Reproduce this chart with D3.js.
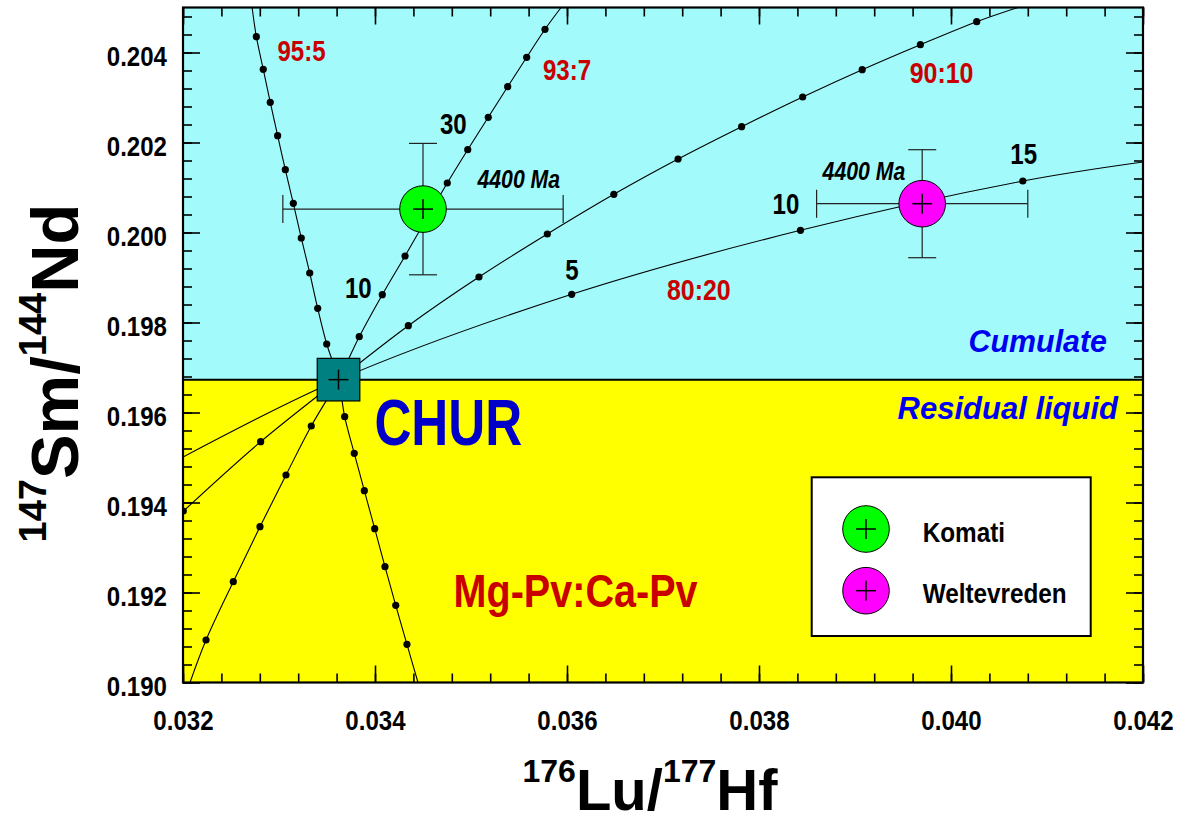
<!DOCTYPE html>
<html>
<head>
<meta charset="utf-8">
<script src="https://cdn.jsdelivr.net/npm/d3@7"></script>
<style>
  html, body { margin: 0; padding: 0; background: #ffffff; }
  svg { display: block; }
  text { font-family: "Liberation Sans", Arial, Helvetica, sans-serif; font-weight: bold; }
</style>
</head>
<body>
<svg id="chart" width="1189" height="823"></svg>
<script>
// ---------------- DATA ----------------
const xTicks = [0.032, 0.034, 0.036, 0.038, 0.040, 0.042];
const yTicks = [0.190, 0.192, 0.194, 0.196, 0.198, 0.200, 0.202, 0.204];
const xDomain = [0.032, 0.042];
const yDomain = [0.190, 0.205];

// CHUR reference composition
const chur = [0.03362, 0.19673];

// mixing / evolution trajectories through CHUR (path vertices)
const path95_5 = [[0.03272, 0.2050], [0.032764, 0.204351], [0.032836, 0.203627], [0.032909, 0.202893],
  [0.032986, 0.202151], [0.033066, 0.201396], [0.033149, 0.200649], [0.033232, 0.199878],
  [0.033320, 0.199100], [0.033403, 0.198316], [0.033497, 0.197522], [0.03362, 0.19673],
  [0.033684, 0.195907], [0.033784, 0.195093], [0.033889, 0.194262], [0.033997, 0.193418],
  [0.034104, 0.192573], [0.034216, 0.191716], [0.034333, 0.190849], [0.034448, 0.1900]];
const dots95_5 = [[0.032764, 0.204351], [0.032836, 0.203627], [0.032909, 0.202893], [0.032986, 0.202151],
  [0.033066, 0.201396], [0.033149, 0.200649], [0.033232, 0.199878], [0.033320, 0.199100],
  [0.033403, 0.198316], [0.033497, 0.197522], [0.033684, 0.195907], [0.033784, 0.195093],
  [0.033889, 0.194262], [0.033997, 0.193418], [0.034104, 0.192573], [0.034216, 0.191716],
  [0.034333, 0.190849]];

const path93_7 = [[0.035938, 0.2050], [0.035771, 0.204516], [0.035580, 0.203893], [0.035382, 0.203240],
  [0.035180, 0.202560], [0.034966, 0.201840], [0.034753, 0.201100], [0.034313, 0.199478],
  [0.034076, 0.198618], [0.033836, 0.197684], [0.03362, 0.19673], [0.033336, 0.195700],
  [0.033073, 0.194611], [0.032802, 0.193462], [0.032524, 0.192240], [0.032240, 0.190944],
  [0.032073, 0.1900]];
const dots93_7 = [[0.035771, 0.204516], [0.035580, 0.203893], [0.035382, 0.203240], [0.035180, 0.202560],
  [0.034966, 0.201840], [0.034753, 0.201100], [0.034313, 0.199478], [0.034076, 0.198618],
  [0.033836, 0.197684], [0.033336, 0.195700], [0.033073, 0.194611], [0.032802, 0.193462],
  [0.032524, 0.192240], [0.032240, 0.190944]];

const path90_10 = [[0.040698, 0.2050], [0.040268, 0.204684], [0.039681, 0.204173], [0.039075, 0.203618],
  [0.038455, 0.203011], [0.037819, 0.202351], [0.037157, 0.201633], [0.036488, 0.200849],
  [0.035795, 0.199967], [0.035083, 0.199011], [0.034347, 0.197929], [0.03362, 0.19673],
  [0.032809, 0.195351], [0.032000, 0.193800]];
const dots90_10 = [[0.040268, 0.204684], [0.039681, 0.204173], [0.039075, 0.203618], [0.038455, 0.203011],
  [0.037819, 0.202351], [0.037157, 0.201633], [0.036488, 0.200849], [0.035795, 0.199967],
  [0.035083, 0.199011], [0.034347, 0.197929], [0.032809, 0.195351], [0.032003, 0.193811]];

const path80_20 = [[0.0420, 0.201567], [0.040748, 0.201144], [0.038432, 0.200049], [0.036049, 0.198627],
  [0.03362, 0.19673], [0.0320, 0.195011]];
const dots80_20 = [[0.040748, 0.201144], [0.038432, 0.200049], [0.036049, 0.198627]];

// samples (4400 Ma) with 2-sigma error bars
const sampleNames = ["Komati", "Weltevreden"];
const sampleX = [0.03450, 0.03970];
const sampleY = [0.20052, 0.20064];
const sampleXErr = [0.00146, 0.00110];
const sampleYErr = [0.00146, 0.00120];
const sampleColors = ["#00ff00", "#ff00ff"];

// ---------------- LAYOUT ----------------
const svg = d3.select("#chart");
const L = 183, R = 1143, T = 7.5, B = 682.5;
const x = d3.scaleLinear().domain(xDomain).range([L, R]);
const y = d3.scaleLinear().domain(yDomain).range([B, T]);

const cyan = "#a3fafa", yellow = "#ffff00", red = "#c80000", blue = "#0000c8", brightBlue = "#0000f0";

svg.append("defs").append("clipPath").attr("id", "clip")
  .append("rect").attr("x", L).attr("y", T).attr("width", R - L).attr("height", B - T);

// backgrounds
svg.append("rect").attr("x", L).attr("y", T).attr("width", R - L).attr("height", y(chur[1]) - T).attr("fill", cyan);
svg.append("rect").attr("x", L).attr("y", y(chur[1])).attr("width", R - L).attr("height", B - y(chur[1])).attr("fill", yellow);
svg.append("line").attr("x1", L).attr("x2", R).attr("y1", y(chur[1])).attr("y2", y(chur[1]))
  .attr("stroke", "#000").attr("stroke-width", 2);

const plot = svg.append("g").attr("clip-path", "url(#clip)");
const line = d3.line().x(d => x(d[0])).y(d => y(d[1])).curve(d3.curveCatmullRom.alpha(0.5));

[path95_5, path93_7, path90_10, path80_20].forEach(p => {
  plot.append("path").attr("d", line(p)).attr("fill", "none").attr("stroke", "#000").attr("stroke-width", 1.1);
});
[dots95_5, dots93_7, dots90_10, dots80_20].forEach(ds => {
  plot.selectAll(null).data(ds).enter().append("circle")
    .attr("cx", d => x(d[0])).attr("cy", d => y(d[1])).attr("r", 3.6).attr("fill", "#000");
});

// helper for (condensed) text
function label(g, txt, px, py, opt) {
  const o = Object.assign({ size: 28, sx: 0.85, anchor: "middle", fill: "#000", italic: false }, opt || {});
  return g.append("text")
    .attr("transform", `translate(${px},${py}) scale(${o.sx},1)`)
    .attr("text-anchor", o.anchor)
    .attr("font-size", o.size)
    .attr("font-style", o.italic ? "italic" : "normal")
    .attr("fill", o.fill)
    .text(txt);
}

// error bars + sample circles
const cap = 14;
sampleNames.forEach((n, i) => {
  const cx = x(sampleX[i]), cy = y(sampleY[i]);
  const g = svg.append("g").attr("stroke", "#222").attr("stroke-width", 1.2);
  g.append("line").attr("x1", x(sampleX[i] - sampleXErr[i])).attr("x2", x(sampleX[i] + sampleXErr[i])).attr("y1", cy).attr("y2", cy);
  g.append("line").attr("x1", cx).attr("x2", cx).attr("y1", y(sampleY[i] - sampleYErr[i])).attr("y2", y(sampleY[i] + sampleYErr[i]));
  [sampleX[i] - sampleXErr[i], sampleX[i] + sampleXErr[i]].forEach(v =>
    g.append("line").attr("x1", x(v)).attr("x2", x(v)).attr("y1", cy - cap).attr("y2", cy + cap));
  [sampleY[i] - sampleYErr[i], sampleY[i] + sampleYErr[i]].forEach(v =>
    g.append("line").attr("x1", cx - cap).attr("x2", cx + cap).attr("y1", y(v)).attr("y2", y(v)));
  svg.append("circle").attr("cx", cx).attr("cy", cy).attr("r", 23.3)
    .attr("fill", sampleColors[i]).attr("stroke", "#000").attr("stroke-width", 1);
  const pg = svg.append("g").attr("stroke", "#000").attr("stroke-width", 1.5);
  pg.append("line").attr("x1", cx - 10).attr("x2", cx + 10).attr("y1", cy).attr("y2", cy);
  pg.append("line").attr("x1", cx).attr("x2", cx).attr("y1", cy - 10).attr("y2", cy + 10);
});

// CHUR square
{
  const cx = x(chur[0]), cy = y(chur[1]), h = 21.3;
  svg.append("rect").attr("x", cx - h).attr("y", cy - h).attr("width", 2 * h).attr("height", 2 * h)
    .attr("fill", "#008080").attr("stroke", "#000").attr("stroke-width", 1.2);
  const pg = svg.append("g").attr("stroke", "#000").attr("stroke-width", 1.5);
  pg.append("line").attr("x1", cx - 10).attr("x2", cx + 10).attr("y1", cy).attr("y2", cy);
  pg.append("line").attr("x1", cx).attr("x2", cx).attr("y1", cy - 10).attr("y2", cy + 10);
}

// annotations
const ann = svg.append("g");
label(ann, "95:5", x(0.033234), y(0.203811), { size: 29, sx: 0.83, fill: red });
label(ann, "93:7", x(0.036000), y(0.203389), { size: 29, sx: 0.83, fill: red });
label(ann, "90:10", x(0.039902), y(0.203322), { size: 29, sx: 0.86, fill: red });
label(ann, "80:20", x(0.037373), y(0.198500), { size: 29, sx: 0.86, fill: red });
label(ann, "10", x(0.033826), y(0.198544), { size: 29, sx: 0.83 });
label(ann, "30", x(0.034816), y(0.202189), { size: 29, sx: 0.83 });
label(ann, "5", x(0.036052), y(0.198944), { size: 29, sx: 0.83 });
label(ann, "10", x(0.038281), y(0.200411), { size: 29, sx: 0.83 });
label(ann, "15", x(0.040757), y(0.201522), { size: 29, sx: 0.83 });
label(ann, "4400 Ma", x(0.035498), y(0.200989), { size: 25, sx: 0.85, italic: true });
label(ann, "4400 Ma", x(0.039093), y(0.201167), { size: 25, sx: 0.85, italic: true });
label(ann, "CHUR", x(0.034764), y(0.195278), { size: 64, sx: 0.8, fill: blue });
label(ann, "Cumulate", x(0.041625), y(0.197351), { size: 31, sx: 0.98, anchor: "end", italic: true, fill: brightBlue });
label(ann, "Residual liquid", x(0.041740), y(0.195856), { size: 31, sx: 1.0, anchor: "end", italic: true, fill: brightBlue });
label(ann, "Mg-Pv:Ca-Pv", x(0.036089), y(0.191684), { size: 46, sx: 0.86, fill: red });

// legend
{
  const lx = 811.7, ly = 477.3, lw = 279, lh = 158.7;
  const lg = svg.append("g");
  lg.append("rect").attr("x", lx).attr("y", ly).attr("width", lw).attr("height", lh)
    .attr("fill", "#fff").attr("stroke", "#000").attr("stroke-width", 2);
  sampleNames.forEach((n, i) => {
    const cx = lx + 54.3, cy = ly + 51.7 + i * 61.7;
    lg.append("circle").attr("cx", cx).attr("cy", cy).attr("r", 23.3)
      .attr("fill", sampleColors[i]).attr("stroke", "#000").attr("stroke-width", 1);
    const pg = lg.append("g").attr("stroke", "#000").attr("stroke-width", 1.5);
    pg.append("line").attr("x1", cx - 10).attr("x2", cx + 10).attr("y1", cy).attr("y2", cy);
    pg.append("line").attr("x1", cx).attr("x2", cx).attr("y1", cy - 10).attr("y2", cy + 10);
    label(lg, n, lx + 111, cy + 12.5, { size: 27, sx: 0.9, anchor: "start" });
  });
}

// axes (ticks inward on all four sides)
const minor = d3.range(0.032, 0.04201, 0.0004);
const minorY = d3.range(0.190, 0.20501, 0.0004);
const MAJ = 17, MIN = 9;
function styleAxis(g) { g.select(".domain").remove(); g.selectAll("line").attr("stroke", "#000").attr("stroke-width", 1.6); }

svg.append("g").attr("transform", `translate(0,${B})`)
  .call(d3.axisBottom(x).tickValues(minor).tickSize(-MIN).tickFormat("")).call(styleAxis);
svg.append("g").attr("transform", `translate(0,${T})`)
  .call(d3.axisTop(x).tickValues(minor).tickSize(-MIN).tickFormat("")).call(styleAxis);
svg.append("g").attr("transform", `translate(${L},0)`)
  .call(d3.axisLeft(y).tickValues(minorY).tickSize(-MIN).tickFormat("")).call(styleAxis);
svg.append("g").attr("transform", `translate(${R},0)`)
  .call(d3.axisRight(y).tickValues(minorY).tickSize(-MIN).tickFormat("")).call(styleAxis);

svg.append("g").attr("transform", `translate(0,${T})`)
  .call(d3.axisTop(x).tickValues(xTicks).tickSize(-MAJ).tickFormat("")).call(styleAxis);
svg.append("g").attr("transform", `translate(${R},0)`)
  .call(d3.axisRight(y).tickValues(yTicks).tickSize(-MAJ).tickFormat("")).call(styleAxis);

const tickSX = 0.86;
const xa = svg.append("g").attr("transform", `translate(0,${B})`)
  .call(d3.axisBottom(x).tickValues(xTicks).tickSize(-MAJ).tickFormat(d3.format(".3f"))).call(styleAxis);
xa.selectAll("text").attr("font-size", 28).attr("fill", "#000")
  .attr("y", null).attr("dy", null).attr("transform", `translate(0,47.5) scale(${tickSX},1)`);

const ya = svg.append("g").attr("transform", `translate(${L},0)`)
  .call(d3.axisLeft(y).tickValues(yTicks).tickSize(-MAJ).tickFormat(d3.format(".3f"))).call(styleAxis);
ya.selectAll("text").attr("font-size", 28).attr("fill", "#000")
  .attr("x", null).attr("dy", null).attr("transform", `translate(-16,12.5) scale(${tickSX},1)`);

// frame
svg.append("rect").attr("x", L).attr("y", T).attr("width", R - L).attr("height", B - T)
  .attr("fill", "none").attr("stroke", "#000").attr("stroke-width", 2.2);

// axis titles
{
  const t = svg.append("text").attr("text-anchor", "middle")
    .attr("transform", `translate(650,810)`).attr("fill", "#000");
  t.append("tspan").attr("font-size", 32).attr("dy", -28).text("176");
  t.append("tspan").attr("font-size", 58).attr("dy", 28).text("Lu/");
  t.append("tspan").attr("font-size", 32).attr("dy", -28).text("177");
  t.append("tspan").attr("font-size", 58).attr("dy", 28).text("Hf");
}
{
  const t = svg.append("text").attr("text-anchor", "middle")
    .attr("transform", `translate(78,373) rotate(-90)`).attr("fill", "#000");
  t.append("tspan").attr("font-size", 38).attr("dy", -32).text("147");
  t.append("tspan").attr("font-size", 67).attr("dy", 32).text("Sm/");
  t.append("tspan").attr("font-size", 38).attr("dy", -32).text("144");
  t.append("tspan").attr("font-size", 67).attr("dy", 32).text("Nd");
}
</script>
</body>
</html>
